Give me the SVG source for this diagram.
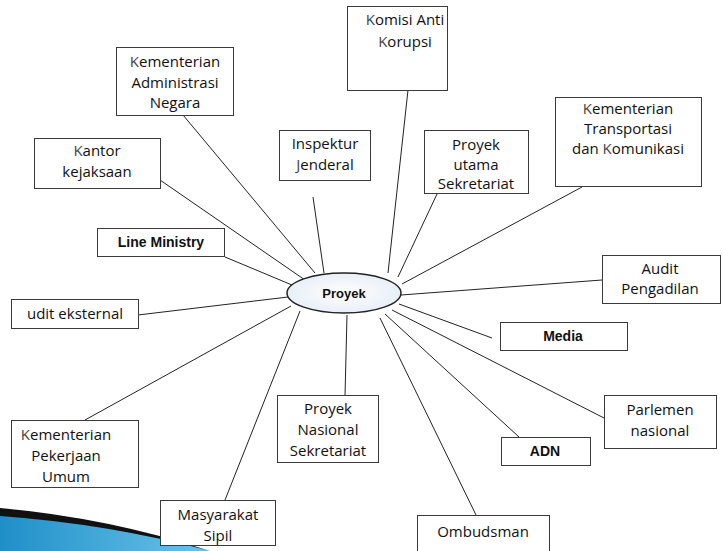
<svg xmlns="http://www.w3.org/2000/svg" width="723" height="551" viewBox="0 0 723 551">
<defs>
<style>
.box{fill:#fff;stroke:#3a3a3a;stroke-width:1}
.t{font-family:"Open Sans","DejaVu Sans",sans-serif;font-size:15px;fill:#111;text-anchor:middle}
.b{font-family:"Liberation Sans",Arial,sans-serif;font-size:14px;font-weight:bold;fill:#111;text-anchor:middle}
.g{fill:#444}
#connectors line{stroke:#222;stroke-width:1}
</style>
<radialGradient id="eg" cx="50%" cy="50%" r="60%">
<stop offset="0" stop-color="#ffffff"/>
<stop offset="1" stop-color="#e3ecf6"/>
</radialGradient>
<linearGradient id="sw" x1="0" y1="0" x2="1" y2="0">
<stop offset="0" stop-color="#1f8fc8"/>
<stop offset="1" stop-color="#6cc3ea"/>
</linearGradient>
</defs>
<rect width="723" height="551" fill="#fff"/>
<g id="swoosh">
<path d="M0,512 Q110,522 210,551 L0,551 Z" fill="url(#sw)"/>
<path d="M0,508 Q110,518 210,551 Q110,524 0,516 Z" fill="#111"/>
</g>
<g id="connectors">
<line x1="160" y1="180" x2="305" y2="280"/>
<line x1="183" y1="115" x2="315" y2="273"/>
<line x1="225" y1="257" x2="292" y2="285"/>
<line x1="313" y1="197" x2="324" y2="273"/>
<line x1="408" y1="90" x2="388" y2="273"/>
<line x1="437" y1="194" x2="398" y2="277"/>
<line x1="582" y1="187" x2="402" y2="284"/>
<line x1="602" y1="280" x2="401" y2="295"/>
<line x1="492" y1="338" x2="399" y2="304"/>
<line x1="604" y1="418" x2="392" y2="310"/>
<line x1="519" y1="437" x2="385" y2="314"/>
<line x1="476" y1="515" x2="380" y2="318"/>
<line x1="345" y1="396" x2="347" y2="315"/>
<line x1="225" y1="500" x2="300" y2="311"/>
<line x1="85" y1="420" x2="291" y2="306"/>
<line x1="138" y1="315" x2="288" y2="297"/>
</g>
<g id="proyek">
<ellipse cx="344" cy="293" rx="57" ry="20" fill="url(#eg)" stroke="#222" stroke-width="1.5"/>
<text class="b" x="344" y="298" style="font-size:13px">Proyek</text>
</g>
<g id="komisi">
<rect class="box" x="347.5" y="6.5" width="100" height="84"/>
<text class="t" x="405" y="25"><tspan class="g">K</tspan>omisi Anti</text>
<text class="t" x="405" y="47"><tspan class="g">K</tspan>orupsi</text>
</g>
<g id="kemenadm">
<rect class="box" x="116.5" y="47.5" width="117" height="68"/>
<text class="t" x="175" y="67"><tspan class="g">K</tspan>ementerian</text>
<text class="t" x="175" y="88">Administrasi</text>
<text class="t" x="175" y="108">Negara</text>
</g>
<g id="kantor">
<rect class="box" x="34.5" y="138.5" width="126" height="50"/>
<text class="t" x="97" y="156"><tspan class="g">K</tspan>antor</text>
<text class="t" x="97" y="177">kejaksaan</text>
</g>
<g id="inspektur">
<rect class="box" x="279.5" y="130.5" width="91" height="50"/>
<text class="t" x="325" y="149">Inspektur</text>
<text class="t" x="325" y="170"><tspan class="g">J</tspan>enderal</text>
</g>
<g id="proyekutama">
<rect class="box" x="424.5" y="130.5" width="104" height="63"/>
<text class="t" x="476" y="150">Proyek</text>
<text class="t" x="476" y="170">utama</text>
<text class="t" x="476" y="189">Sekretariat</text>
</g>
<g id="kemenhub">
<rect class="box" x="555.5" y="97.5" width="146" height="89"/>
<text class="t" x="628" y="114"><tspan class="g">K</tspan>ementerian</text>
<text class="t" x="628" y="134">Transportasi</text>
<text class="t" x="628" y="154">dan <tspan class="g">K</tspan>omunikasi</text>
</g>
<g id="lineministry">
<rect class="box" x="97.5" y="228.5" width="127" height="28"/>
<text class="b" x="161" y="247">Line Ministry</text>
</g>
<g id="auditeksternal">
<rect class="box" x="11.5" y="299.5" width="127" height="29"/>
<text class="t" x="75" y="319">udit eksternal</text>
</g>
<g id="auditpengadilan">
<rect class="box" x="602.5" y="255.5" width="118" height="48"/>
<text class="t" x="660" y="274">Audit</text>
<text class="t" x="660" y="294">Pengadilan</text>
</g>
<g id="media">
<rect class="box" x="500.5" y="322.5" width="127" height="28"/>
<text class="b" x="563" y="341">Media</text>
</g>
<g id="parlemen">
<rect class="box" x="604.5" y="395.5" width="112" height="53"/>
<text class="t" x="660" y="415">Parlemen</text>
<text class="t" x="660" y="436">nasional</text>
</g>
<g id="adn">
<rect class="box" x="501.5" y="437.5" width="89" height="28"/>
<text class="b" x="545" y="456">ADN</text>
</g>
<g id="proyeknasional">
<rect class="box" x="277.5" y="395.5" width="101" height="67"/>
<text class="t" x="328" y="414">Proyek</text>
<text class="t" x="328" y="435">Nasional</text>
<text class="t" x="328" y="456">Sekretariat</text>
</g>
<g id="kemenpu">
<rect class="box" x="11.5" y="420.5" width="127" height="67"/>
<text class="t" x="66" y="440"><tspan class="g">K</tspan>ementerian</text>
<text class="t" x="66" y="461">Pekerjaan</text>
<text class="t" x="66" y="482">Umum</text>
</g>
<g id="masyarakat">
<rect class="box" x="160.5" y="500.5" width="115" height="45"/>
<text class="t" x="218" y="520">Masyarakat</text>
<text class="t" x="218" y="541">Sipil</text>
</g>
<g id="ombudsman">
<rect class="box" x="417.5" y="515.5" width="132" height="40"/>
<text class="t" x="483" y="537">Ombudsman</text>
</g>
</svg>
